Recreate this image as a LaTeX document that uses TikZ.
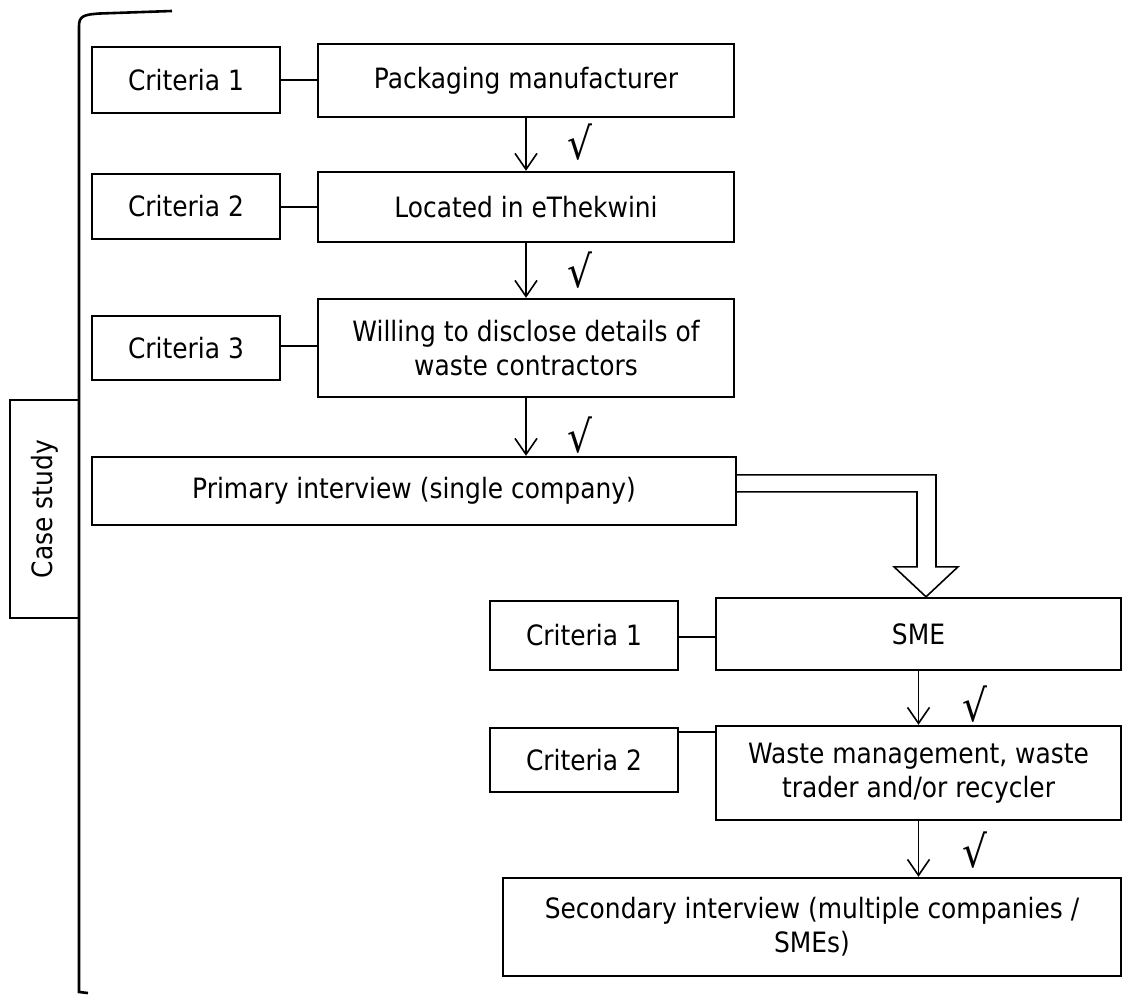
\documentclass[tikz,border=0pt]{standalone}
\usepackage{fontspec}
\setmainfont[FakeStretch=0.89]{DejaVu Sans}
\usetikzlibrary{arrows.meta,calc}
% box given by its corners: name, x1, y1, x2, y2, text
\newcommand\cornerbox[6]{%
  \node[box,minimum width={#4-#2},minimum height={#5-#3}] (#1) at ({(#2+#4)/2},{(#3+#5)/2}) {#6};}
\begin{document}
\begin{tikzpicture}[x=1pt,y=-1pt,
  box/.style={draw,line width=2.4pt,inner sep=0pt,align=center,font=\fontsize{28}{34}\selectfont},
  link/.style={line width=2pt},
  flow/.style={line width=1.6pt,-{Straight Barb[length=16pt,width=22pt,line width=1.6pt]}},
  tick/.style={font=\fontsize{44}{44}\selectfont,inner sep=0pt},
  hollow/.style={line width=1.6pt,line join=miter}]
\useasboundingbox (0,0) rectangle (1123,995);

% bracket enclosing the study
\draw[line width=2.6pt] (172,11) -- (100,13.5) .. controls (84,14.5) and (79,16) .. (79,26) -- (79,992) -- (88,993);
\node[box,rotate=90,minimum width=218,minimum height=69] (cs) at (44.5,509) {Case study};

% first stage: manufacturer selection
\cornerbox{c1a}{92}{47}{280}{113}{Criteria 1}
\cornerbox{pm}{318}{44}{734}{117}{Packaging manufacturer}
\cornerbox{c2a}{92}{174}{280}{239}{Criteria 2}
\cornerbox{loc}{318}{172}{734}{242}{Located in eThekwini}
\cornerbox{c3a}{92}{316}{280}{380}{Criteria 3}
\cornerbox{wil}{318}{299}{734}{397}{Willing to disclose details of\\waste contractors}
\cornerbox{prim}{92}{457}{736}{525}{Primary interview (single company)}

\draw[link] (c1a.east) -- (c1a.east -| pm.west);
\draw[link] (c2a.east) -- (c2a.east -| loc.west);
\draw[link] ($(c3a.east)+(0,-2)$) -- ($(c3a.east -| wil.west)+(0,-2)$);

\coordinate (e3) at (wil.south |- prim.north);
\draw[flow] (pm.south) -- (loc.north);
\draw[flow] (loc.south) -- (wil.north);
\draw[flow] (wil.south) -- (e3);

\node[tick] (k1) at ($(pm.south)!0.5!(loc.north)+(54,-2)$) {√};
\node[tick] (k2) at ($(loc.south)!0.5!(wil.north)+(54,0)$) {√};
\node[tick] (k3) at ($(wil.south)!0.5!(e3)+(54,8)$) {√};

% second stage: SME selection
\cornerbox{c1b}{490}{601}{678}{670}{Criteria 1}
\cornerbox{sme}{716}{598}{1121}{670}{SME}
\cornerbox{c2b}{490}{728}{678}{792}{Criteria 2}
\cornerbox{wst}{716}{726}{1121}{820}{Waste management, waste\\trader and/or recycler}
\cornerbox{sec}{503}{878}{1121}{976}{Secondary interview (multiple companies /\\SMEs)}

\draw[link] (c1b.east |- 0,637) -- (sme.west |- 0,637);
\draw[link] ($(c2b.north east)+(0,5)$) -- ($(c2b.north east -| wst.west)+(0,5)$);

\coordinate (e5) at (wst.south |- sec.north);
\draw[flow] (sme.south) -- (wst.north);
\draw[flow] (wst.south) -- (e5);

\node[tick] (k4) at ($(sme.south)!0.5!(wst.north)+(56,6)$) {√};
\node[tick] (k5) at ($(wst.south)!0.5!(e5)+(56,1)$) {√};

% hollow arrow leading from the primary to the secondary stage
\coordinate (tip) at ($(sme.north)+(7.5,0)$);
\draw[hollow] ($(prim.north east)+(0,19)$) -| ($(tip)+(10,-30)$) -- ($(tip)+(32,-30)$) -- (tip)
  -- ($(tip)+(-32,-30)$) -- ($(tip)+(-9,-30)$) |- ($(prim.north east)+(0,36)$);
\end{tikzpicture}
\end{document}
